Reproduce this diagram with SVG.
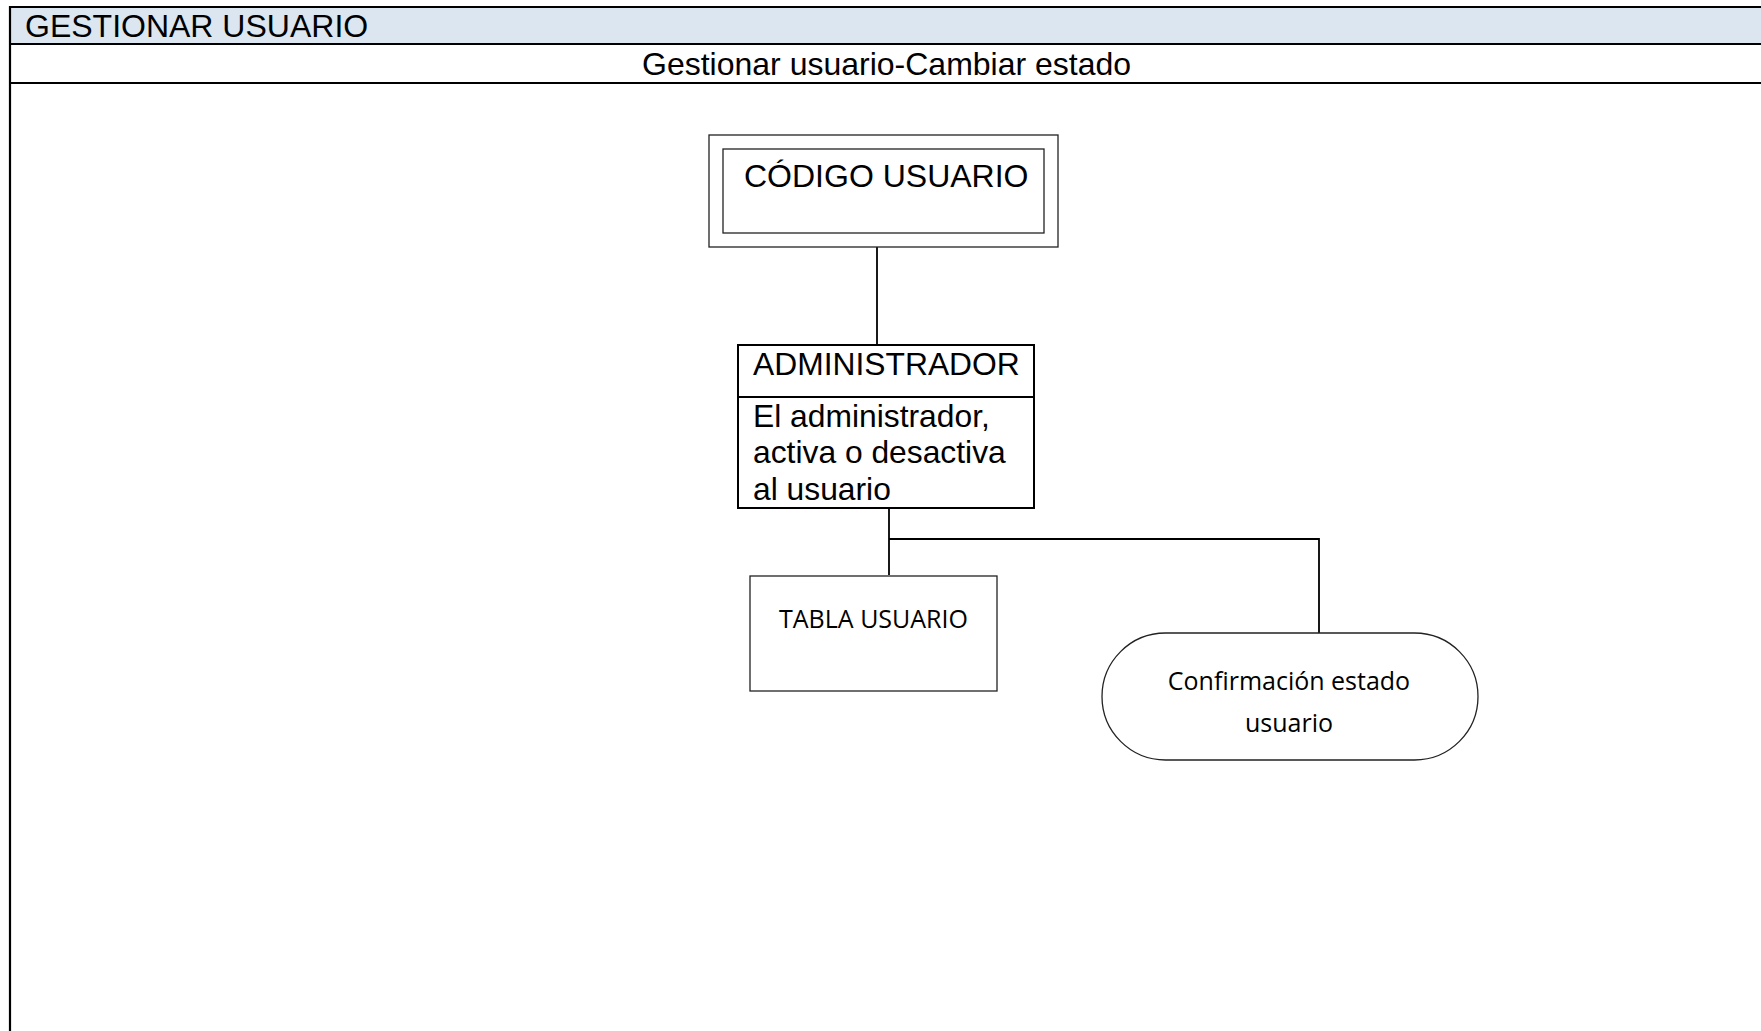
<svg xmlns="http://www.w3.org/2000/svg" width="1761" height="1031" viewBox="0 0 1761 1031">
<style>
.frame{stroke:#000;stroke-width:2.2;fill:none}
.arial{font-family:"Liberation Sans",Arial,sans-serif;fill:#000}
.cal{font-family:"Open Sans","Liberation Sans",sans-serif;fill:#000;font-size:25px}
.thin{fill:#fff;stroke:#222;stroke-width:1.3}
.box{fill:#fff;stroke:#000;stroke-width:2}
.conn{stroke:#000;stroke-width:1.8;fill:none}
</style>
<rect width="1761" height="1031" fill="#fff"/>
<g id="table">
<rect x="10" y="7" width="1751" height="37" fill="#DCE6F1"/>
<line class="frame" x1="9" y1="7" x2="1761" y2="7"/>
<line class="frame" x1="9" y1="44" x2="1761" y2="44"/>
<line class="frame" x1="9" y1="83" x2="1761" y2="83"/>
<line class="frame" x1="10" y1="6" x2="10" y2="1031"/>
<text class="arial" x="25" y="37" font-size="32">GESTIONAR USUARIO</text>
<text class="arial" x="642" y="75" font-size="32">Gestionar usuario-Cambiar estado</text>
</g>
<g id="connectors">
<line class="conn" x1="877" y1="247" x2="877" y2="345"/>
<polyline class="conn" points="889,508 889,575"/>
<polyline class="conn" points="889,539 1319,539 1319,633"/>
</g>
<g id="codigo-usuario">
<rect class="thin" x="709" y="135" width="349" height="112"/>
<rect class="thin" x="723" y="149" width="321" height="84"/>
<text class="arial" x="744" y="187" font-size="32">CÓDIGO USUARIO</text>
</g>
<g id="administrador">
<rect class="box" x="738" y="345" width="296" height="163"/>
<line class="box" x1="738" y1="397" x2="1034" y2="397"/>
<text class="arial" x="753" y="375" font-size="31.8">ADMINISTRADOR</text>
<text class="arial" x="753" y="427" font-size="31.8">El administrador,</text>
<text class="arial" x="753" y="463" font-size="31.8">activa o desactiva</text>
<text class="arial" x="753" y="500" font-size="31.8">al usuario</text>
</g>
<g id="tabla-usuario">
<rect class="thin" x="750" y="576" width="247" height="115"/>
<text class="cal" x="873.5" y="628" text-anchor="middle">TABLA USUARIO</text>
</g>
<g id="confirmacion">
<rect class="thin" x="1102" y="633" width="376" height="127" rx="63.5" ry="63.5"/>
<text class="cal" x="1289" y="690" text-anchor="middle">Confirmación estado</text>
<text class="cal" x="1289" y="732" text-anchor="middle">usuario</text>
</g>
</svg>
